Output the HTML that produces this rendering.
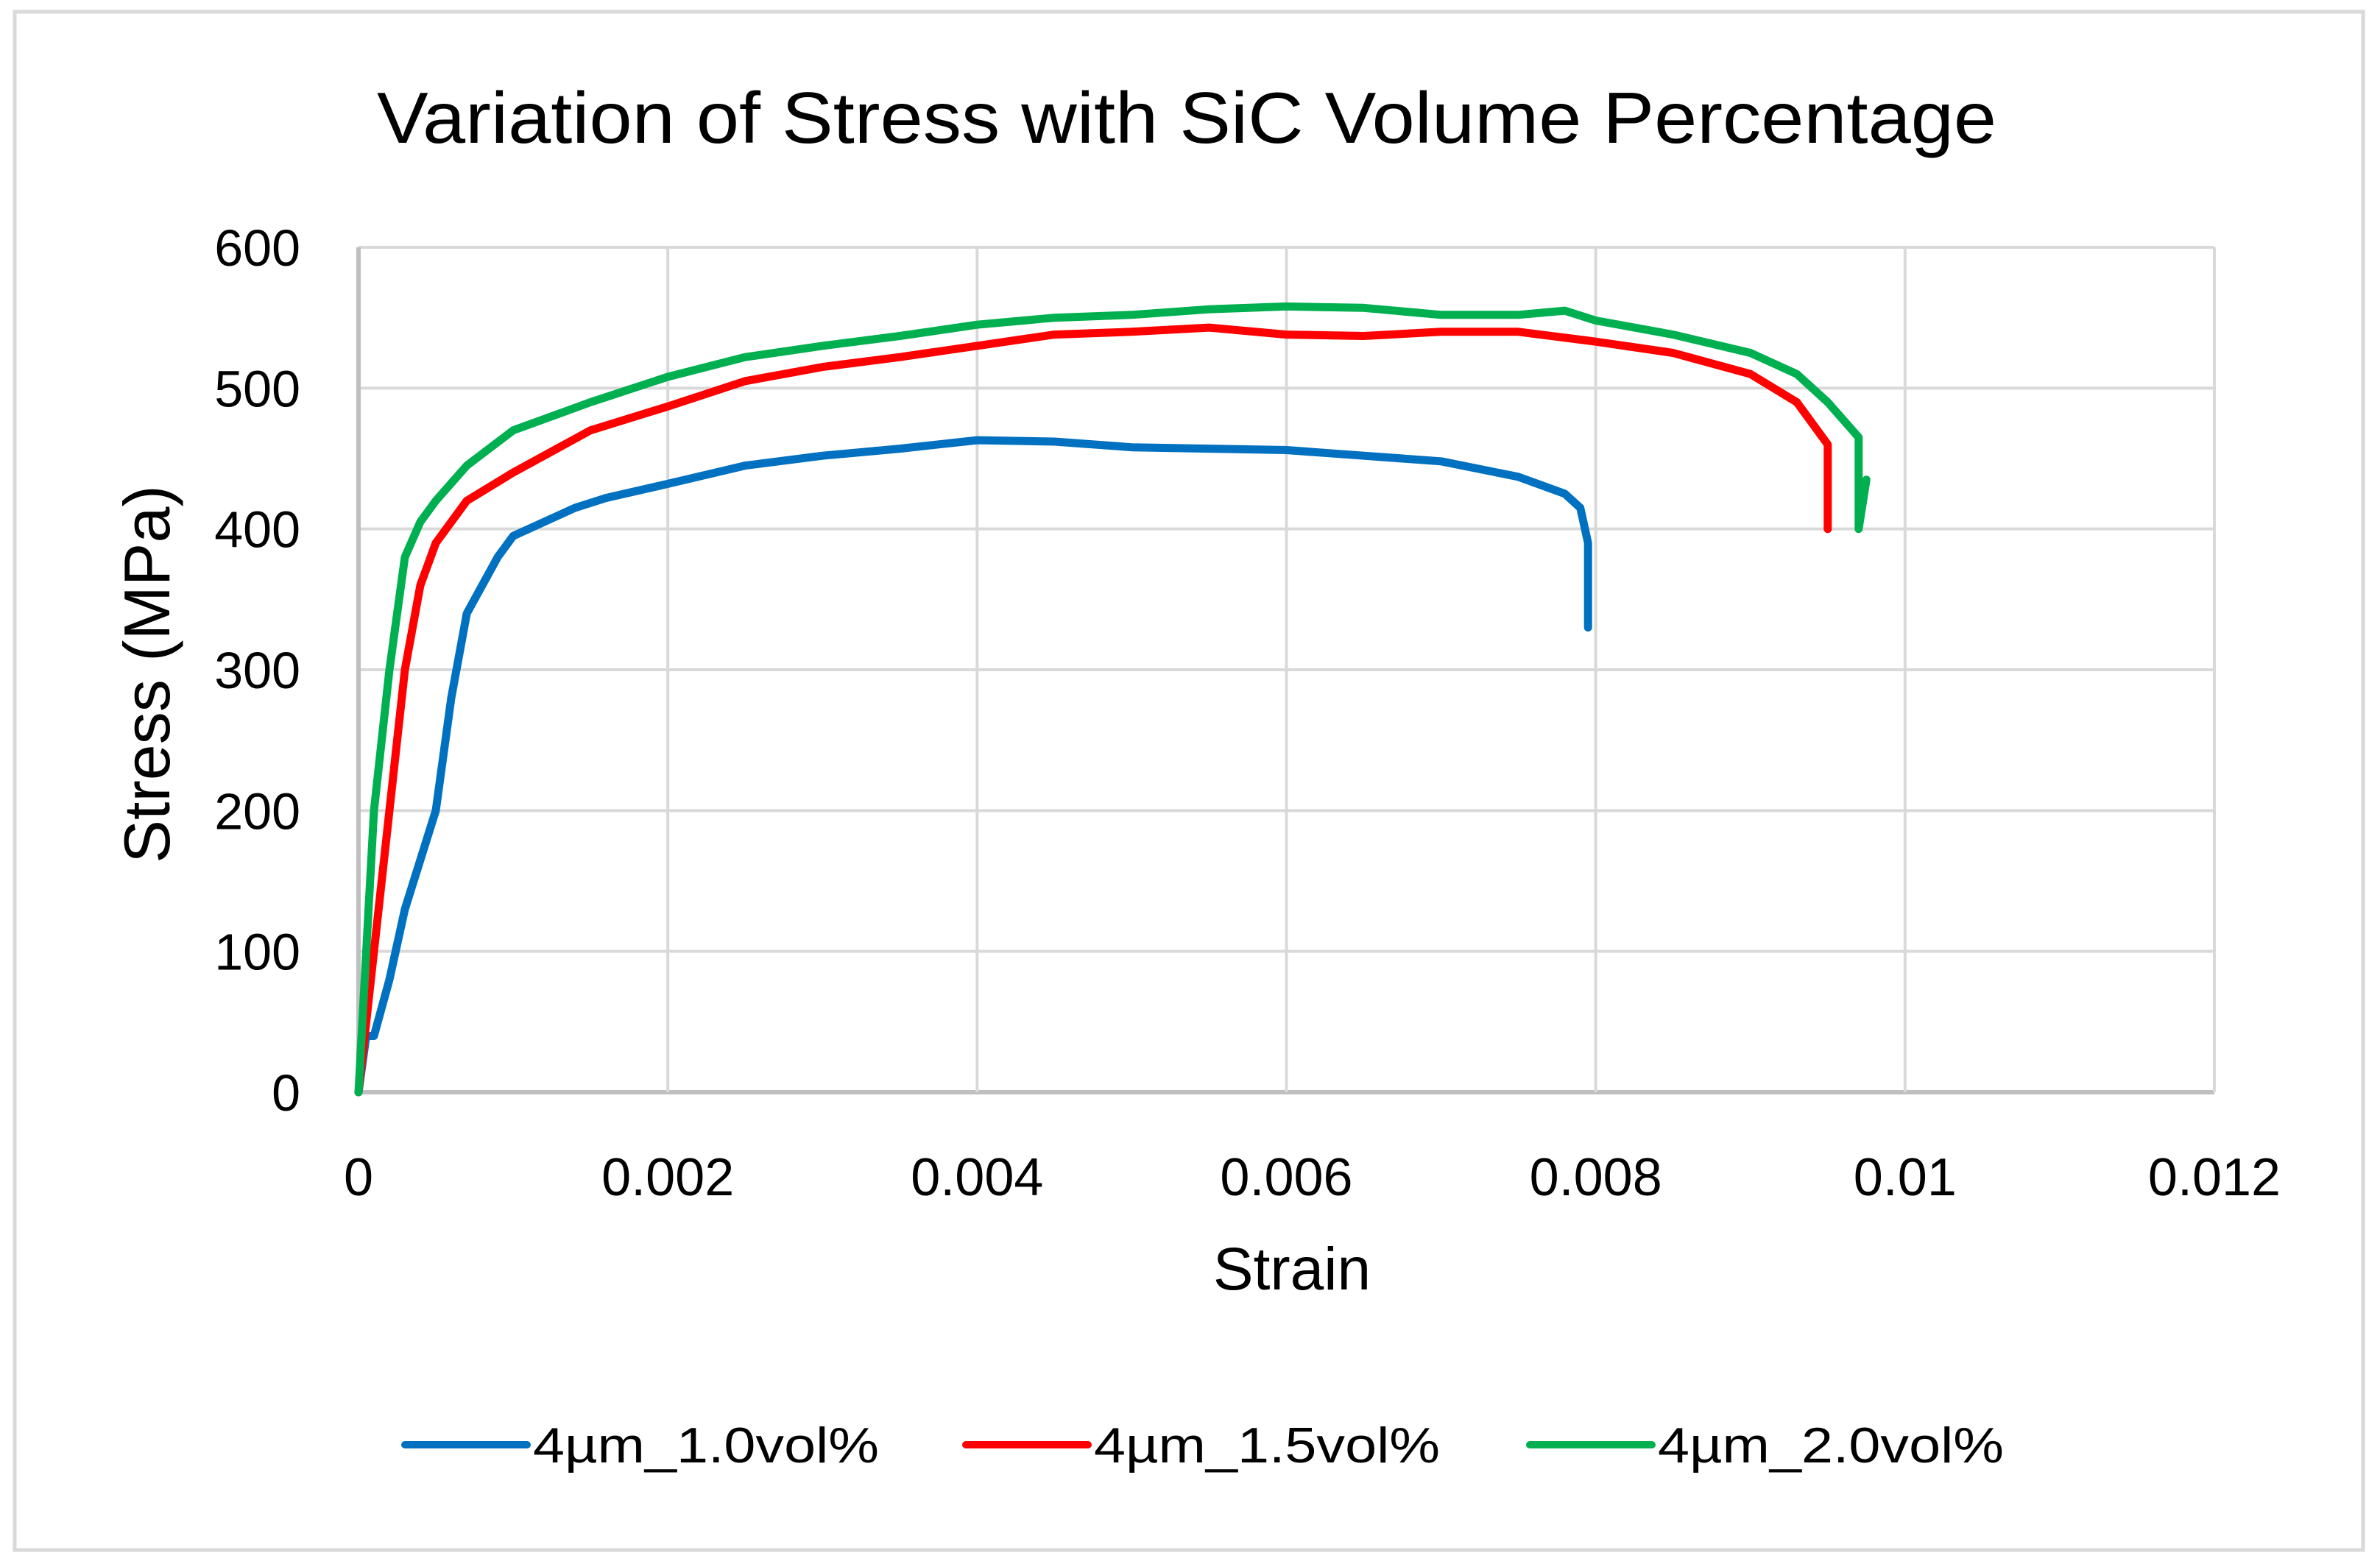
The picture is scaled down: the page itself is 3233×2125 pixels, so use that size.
<!DOCTYPE html>
<html><head><meta charset="utf-8"><style>
html,body{margin:0;padding:0;background:#fff}
svg{display:block;font-family:"Liberation Sans",sans-serif}
</style></head><body>
<svg id="chart" width="3233" height="2125" viewBox="0 0 3233 2125">
<rect x="20" y="16" width="3190" height="2090" fill="#fff" stroke="#d9d9d9" stroke-width="5"/>
<text x="1612" y="194" text-anchor="middle" font-size="98" textLength="2200" lengthAdjust="spacingAndGlyphs">Variation of Stress with SiC Volume Percentage</text>
<g id="grid"></g>
<g id="series"></g>
<g id="ticks"></g>
<text x="1755" y="1752" text-anchor="middle" font-size="82">Strain</text>
<text transform="translate(230,916) rotate(-90)" text-anchor="middle" font-size="88">Stress (MPa)</text>
<g id="legend"></g>
</svg>
<script>
const xTicks=[0,0.002,0.004,0.006,0.008,0.01,0.012];
const xTickLabels=["0","0.002","0.004","0.006","0.008","0.01","0.012"];
const yTicks=[0,100,200,300,400,500,600];
const seriesNames=["4µm_1.0vol%","4µm_1.5vol%","4µm_2.0vol%"];
const seriesColors=["#0070c0","#ff0000","#00b050"];
const blueStrain=[0,0.00005,0.0001,0.0002,0.0003,0.0004,0.0005,0.0006,0.0007,0.0008,0.0009,0.001,0.0012,0.0014,0.0016,0.002,0.0025,0.003,0.0035,0.004,0.0045,0.005,0.0055,0.006,0.0065,0.007,0.0075,0.0078,0.0079,0.00795,0.00795];
const blueStress=[0,40,40,80,130,165,200,280,340,360,380,395,405,415,422,432,445,452,457,463,462,458,457,456,452,448,437,425,415,390,330];
const redStrain=[0,0.0001,0.0002,0.0003,0.0004,0.0005,0.0007,0.001,0.0015,0.002,0.0025,0.003,0.0035,0.004,0.0045,0.005,0.0055,0.006,0.0065,0.007,0.0075,0.008,0.0085,0.009,0.0093,0.0095,0.0095];
const redStress=[0,100,200,300,360,390,420,440,470,487,505,515,522,530,538,540,543,538,537,540,540,533,525,510,490,460,400];
const greenStrain=[0,0.00005,0.0001,0.0002,0.0003,0.0004,0.0005,0.0007,0.001,0.0015,0.002,0.0025,0.003,0.0035,0.004,0.0045,0.005,0.0055,0.006,0.0065,0.007,0.0075,0.0078,0.008,0.0085,0.009,0.0093,0.0095,0.0097,0.0097,0.00975];
const greenStress=[0,100,200,300,380,405,420,445,470,490,508,522,530,537,545,550,552,556,558,557,552,552,555,548,538,525,510,490,465,400,435];

const NS="http://www.w3.org/2000/svg";
const L=487,R=3008,T=336,B=1484;
const sx=v=>L+v/0.012*(R-L);
const sy=v=>B-v/600*(B-T);
function mk(tag,attrs,parent){const e=document.createElementNS(NS,tag);for(const k in attrs)e.setAttribute(k,attrs[k]);parent.appendChild(e);return e;}
const grid=document.getElementById('grid'),ticks=document.getElementById('ticks'),ser=document.getElementById('series'),leg=document.getElementById('legend');
yTicks.forEach((v,i)=>{
 const ln=mk('line',{x1:L,x2:R,y1:sy(v),y2:sy(v),stroke:v===0?'#bfbfbf':'#d9d9d9','stroke-width':v===0?6:4},grid);
 
 
 const t=mk('text',{x:408,y:sy(v)+25,'text-anchor':'end','font-size':70},ticks);
 t.textContent=String(v);
 
 
});
xTicks.forEach((v,i)=>{
 const ln=mk('line',{x1:sx(v),x2:sx(v),y1:T,y2:B,stroke:i===0?'#bfbfbf':'#d9d9d9','stroke-width':i===0?6:4},grid);
 
 
 const t=mk('text',{x:sx(v),y:1624,'text-anchor':'middle','font-size':72},ticks);
 t.textContent=xTickLabels[i];
 
 
});
const data=[[blueStrain,blueStress],[redStrain,redStress],[greenStrain,greenStress]];
data.forEach((d,k)=>{
 const pts=d[0].map((x,i)=>sx(x).toFixed(1)+','+sy(d[1][i]).toFixed(1)).join(' ');
 const p=mk('polyline',{points:pts,fill:'none',stroke:seriesColors[k],'stroke-width':11,'stroke-linejoin':'round','stroke-linecap':'round'},ser);
 
 
});
const legX=[550,1312,2078];
seriesNames.forEach((n,k)=>{
 const ln=mk('line',{x1:legX[k],x2:legX[k]+166,y1:1963,y2:1963,stroke:seriesColors[k],'stroke-width':10,'stroke-linecap':'round'},leg);
 
 
 const t=mk('text',{x:legX[k]+174,y:1987,'font-size':68,textLength:470,lengthAdjust:'spacingAndGlyphs'},leg);
 t.textContent=n;
 
 
});
</script>
</body></html>
